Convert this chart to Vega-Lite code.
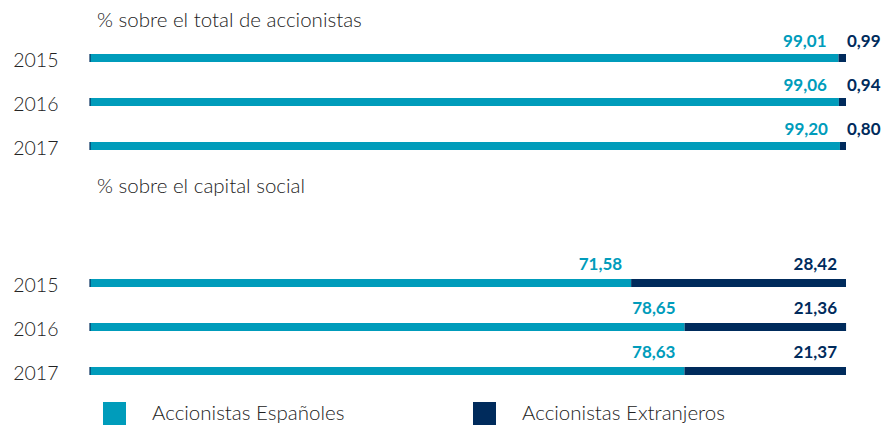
{
  "$schema": "https://vega.github.io/schema/vega-lite/v6.json",
  "background": "white",
  "padding": {"left": 12, "top": 10, "right": 0, "bottom": 0},
  "config": {
    "view": {"stroke": null},
    "font": "Lato",
    "concat": {"spacing": 8}
  },
  "datasets": {
    "total": [
      {"year": "2015", "group": "Accionistas Españoles", "value": 99.01},
      {"year": "2015", "group": "Accionistas Extranjeros", "value": 0.99},
      {"year": "2016", "group": "Accionistas Españoles", "value": 99.06},
      {"year": "2016", "group": "Accionistas Extranjeros", "value": 0.94},
      {"year": "2017", "group": "Accionistas Españoles", "value": 99.20},
      {"year": "2017", "group": "Accionistas Extranjeros", "value": 0.80}
    ],
    "capital": [
      {"year": "2015", "group": "Accionistas Españoles", "value": 71.58},
      {"year": "2015", "group": "Accionistas Extranjeros", "value": 28.42},
      {"year": "2016", "group": "Accionistas Españoles", "value": 78.65},
      {"year": "2016", "group": "Accionistas Extranjeros", "value": 21.36},
      {"year": "2017", "group": "Accionistas Españoles", "value": 78.63},
      {"year": "2017", "group": "Accionistas Extranjeros", "value": 21.37}
    ]
  },
  "resolve": {"scale": {"color": "shared"}},
  "vconcat": [
    {
      "width": 756,
      "height": {"step": 44},
      "title": {"text": "% sobre el total de accionistas", "anchor": "start", "frame": "group", "dx": 7, "fontSize": 20.5, "fontWeight": 300, "font": "Lato", "color": "#222222", "baseline": "alphabetic", "offset": -14},
      "data": {"name": "total"},
      "transform": [
        {"stack": "value", "groupby": ["year"], "sort": [{"field": "group", "order": "ascending"}], "as": ["x0", "x1"]},
        {"calculate": "replace(format(datum.value, '.2f'), '.', ',')", "as": "label"}
      ],
      "encoding": {
        "y": {"field": "year", "type": "nominal", "title": null,
          "scale": {"paddingInner": 0, "paddingOuter": 0},
          "axis": {"domain": false, "ticks": false, "labelPadding": 32, "labelFontSize": 19.5, "labelFont": "Lato", "labelFontWeight": 300, "labelColor": "#222222", "labelOffset": 3}}
      },
      "layer": [
        {
          "mark": {"type": "bar", "size": 8},
          "encoding": {
            "x": {"field": "x0", "type": "quantitative", "scale": {"domain": [0, 100], "nice": false}, "axis": null},
            "x2": {"field": "x1"},
            "color": {"field": "group", "type": "nominal", "title": null,
              "scale": {"domain": ["Accionistas Españoles", "Accionistas Extranjeros"], "range": ["#009CBB", "#002B5C"]},
              "legend": {"orient": "none", "legendX": 13, "legendY": 366, "direction": "horizontal", "padding": 0,
                "symbolType": "square", "symbolSize": 529, "symbolStrokeWidth": 0, "symbolOpacity": 1,
                "labelFontSize": 20.5, "labelFont": "Lato", "labelFontWeight": 300, "labelColor": "#222222",
                "labelOffset": 26, "columnPadding": 128, "labelLimit": 400}}
          }
        },
        {
          "mark": {"type": "tick", "thickness": 1, "size": 8, "color": "#002B5C"},
          "encoding": {"x": {"datum": 0, "type": "quantitative"}}
        },
        {
          "transform": [{"filter": "datum.group == 'Accionistas Españoles'"}],
          "mark": {"type": "text", "align": "right", "baseline": "middle", "dx": -12, "dy": -16, "fontSize": 17, "fontWeight": "bold", "font": "Lato", "color": "#009CBB"},
          "encoding": {"x": {"field": "x1", "type": "quantitative"}, "text": {"field": "label"}}
        },
        {
          "transform": [{"filter": "datum.group == 'Accionistas Extranjeros'"}],
          "mark": {"type": "text", "align": "left", "baseline": "middle", "dx": 1, "dy": -16, "fontSize": 17, "fontWeight": "bold", "font": "Lato", "color": "#002B5C"},
          "encoding": {"x": {"field": "x1", "type": "quantitative"}, "text": {"field": "label"}}
        }
      ]
    },
    {
      "width": 756,
      "height": {"step": 44},
      "title": {"text": "% sobre el capital social", "anchor": "start", "frame": "group", "dx": 7, "fontSize": 20.5, "fontWeight": 300, "font": "Lato", "color": "#222222", "baseline": "alphabetic", "offset": 43},
      "data": {"name": "capital"},
      "transform": [
        {"stack": "value", "groupby": ["year"], "sort": [{"field": "group", "order": "ascending"}], "as": ["x0", "x1"]},
        {"calculate": "replace(format(datum.value, '.2f'), '.', ',')", "as": "label"}
      ],
      "encoding": {
        "y": {"field": "year", "type": "nominal", "title": null,
          "scale": {"paddingInner": 0, "paddingOuter": 0},
          "axis": {"domain": false, "ticks": false, "labelPadding": 32, "labelFontSize": 19.5, "labelFont": "Lato", "labelFontWeight": 300, "labelColor": "#222222", "labelOffset": 3}}
      },
      "layer": [
        {
          "mark": {"type": "bar", "size": 8},
          "encoding": {
            "x": {"field": "x0", "type": "quantitative", "scale": {"domain": [0, 100], "nice": false}, "axis": null},
            "x2": {"field": "x1"},
            "color": {"field": "group", "type": "nominal", "title": null}
          }
        },
        {
          "mark": {"type": "tick", "thickness": 1, "size": 8, "color": "#002B5C"},
          "encoding": {"x": {"datum": 0, "type": "quantitative"}}
        },
        {
          "transform": [{"filter": "datum.group == 'Accionistas Españoles'"}],
          "mark": {"type": "text", "align": "right", "baseline": "middle", "dx": -9, "dy": -18, "fontSize": 17, "fontWeight": "bold", "font": "Lato", "color": "#009CBB"},
          "encoding": {"x": {"field": "x1", "type": "quantitative"}, "text": {"field": "label"}}
        },
        {
          "transform": [{"filter": "datum.group == 'Accionistas Extranjeros'"}],
          "mark": {"type": "text", "align": "right", "baseline": "middle", "dx": -9, "dy": -18, "fontSize": 17, "fontWeight": "bold", "font": "Lato", "color": "#002B5C"},
          "encoding": {"x": {"field": "x1", "type": "quantitative"}, "text": {"field": "label"}}
        }
      ]
    }
  ]
}
